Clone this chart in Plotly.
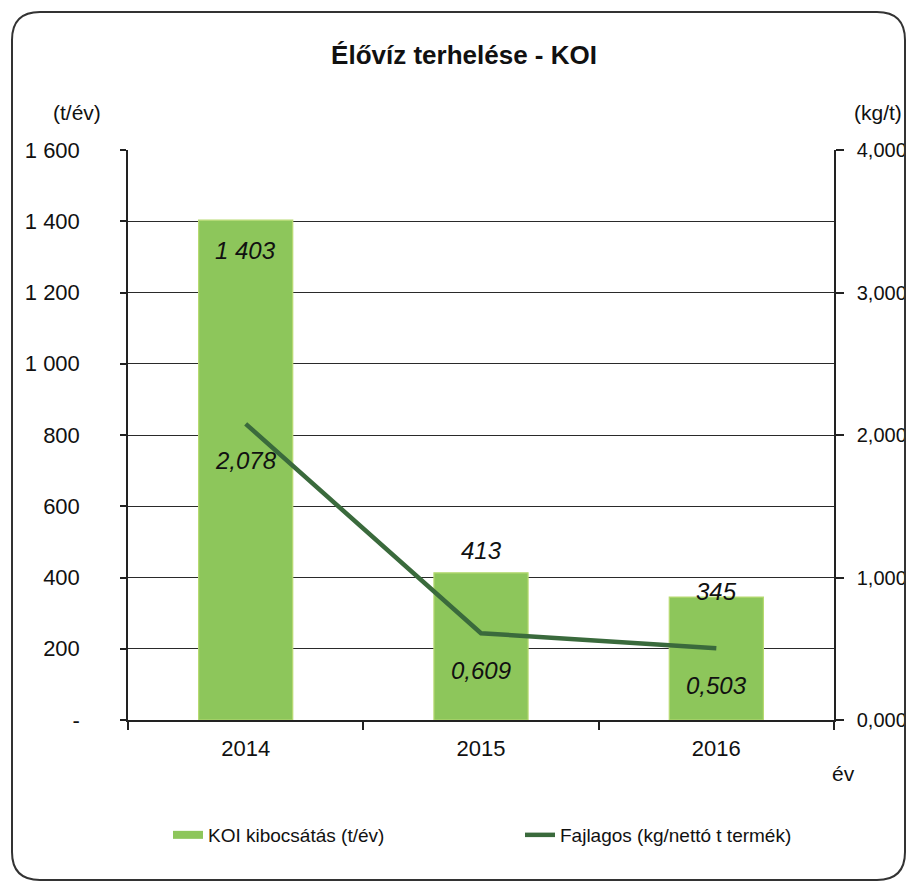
import plotly.graph_objects as go

# ---- data ----
years = ["2014", "2015", "2016"]
koi_emission = [1403, 413, 345]          # t/év
specific_koi = [2.078, 0.609, 0.503]     # kg/nettó t termék
left_ticks = [0, 200, 400, 600, 800, 1000, 1200, 1400, 1600]
right_ticks = [0, 1, 2, 3, 4]

title_text = "Élővíz terhelése - KOI"
bar_name = "KOI kibocsátás (t/év)"
line_name = "Fajlagos (kg/nettó t termék)"

# ---- styling / layout constants (screen pixels) ----
W, H = 914, 886
OFF = 8                      # page body margin
L, R, T, B = 128, 834, 150, 720
FONT = "Arial, Liberation Sans, sans-serif"
BAR_COLOR = "#8dc65b"
LINE_COLOR = "#3a6a3c"
bar_label_shift = [-30, 22, 6]   # px offsets of bar value labels
line_label_shift = -37


def hu_int(v):
    return f"{v:,.0f}".replace(",", " ")


def hu_dec(v):
    return f"{v:.3f}".replace(".", ",")


def px(x):
    return (x - L) / (R - L)


def py(y):
    return (B - y) / (B - T)


fig = go.Figure()
fig.add_trace(go.Bar(
    x=years, y=koi_emission, name=bar_name, yaxis="y",
    marker=dict(color=BAR_COLOR, line=dict(color="#b7da72", width=1.2)),
    showlegend=False, hoverinfo="skip",
))
# legend proxy for the bar series (wide flat swatch like the original)
fig.add_trace(go.Scatter(
    x=[years[0]], y=[None], mode="lines", name=bar_name,
    line=dict(color=BAR_COLOR, width=8), legend="legend",
))
fig.add_trace(go.Scatter(
    x=years, y=specific_koi, name=line_name, yaxis="y2", mode="lines",
    line=dict(color=LINE_COLOR, width=4.5), legend="legend2",
))

label_font = dict(family=FONT, size=24, color="#111")
annotations = []
for i, (v, s) in enumerate(zip(koi_emission, bar_label_shift)):
    annotations.append(dict(
        x=i, y=v, xref="x", yref="y", text="<i>" + hu_int(v) + "</i>",
        showarrow=False, yshift=s, xanchor="center", yanchor="middle",
        font=label_font,
    ))
for i, v in enumerate(specific_koi):
    annotations.append(dict(
        x=i, y=v, xref="x", yref="y2", text="<i>" + hu_dec(v) + "</i>",
        showarrow=False, yshift=line_label_shift, xanchor="center",
        yanchor="middle", font=label_font,
    ))

unit_font = dict(family=FONT, size=21, color="#111")
annotations += [
    dict(x=px(77), y=py(112), xref="paper", yref="paper", text="(t/év)",
         showarrow=False, xanchor="center", yanchor="middle", font=unit_font),
    dict(x=px(878), y=py(112), xref="paper", yref="paper", text="(kg/t)",
         showarrow=False, xanchor="center", yanchor="middle", font=unit_font),
    dict(x=px(843), y=py(773), xref="paper", yref="paper", text="év",
         showarrow=False, xanchor="center", yanchor="middle", font=unit_font),
]

# rounded border
x0, x1, y0, y1, r = 12, 905, 12, 880, 28
path = (
    f"M {px(x0 + r)},{py(y0)} L {px(x1 - r)},{py(y0)} "
    f"Q {px(x1)},{py(y0)} {px(x1)},{py(y0 + r)} "
    f"L {px(x1)},{py(y1 - r)} Q {px(x1)},{py(y1)} {px(x1 - r)},{py(y1)} "
    f"L {px(x0 + r)},{py(y1)} Q {px(x0)},{py(y1)} {px(x0)},{py(y1 - r)} "
    f"L {px(x0)},{py(y0 + r)} Q {px(x0)},{py(y0)} {px(x0 + r)},{py(y0)} Z"
)

legend_common = dict(orientation="h", xanchor="left", yanchor="middle",
                     font=dict(family=FONT, size=19, color="#111"),
                     bgcolor="rgba(0,0,0,0)")

fig.update_layout(
    width=W, height=H,
    margin=dict(l=L - OFF, r=W + OFF - R, t=T - OFF, b=H + OFF - B, pad=0),
    paper_bgcolor="white", plot_bgcolor="white",
    font=dict(family=FONT, size=21, color="#111"),
    title=dict(text="<b>" + title_text + "</b>", x=(464 - OFF) / W,
               y=1 - (55 - OFF) / H, xanchor="center", yanchor="middle",
               font=dict(family=FONT, size=26, color="#111")),
    bargap=0.6,
    showlegend=True,
    legend=dict(x=px(168), y=py(835), **legend_common),
    legend2=dict(x=px(520), y=py(835), **legend_common),
    xaxis=dict(
        type="category", categoryorder="array", categoryarray=years,
        range=[-0.5, len(years) - 0.5], autorange=False,
        showgrid=False, showline=True, linecolor="#222",
        linewidth=1.5, ticks="outside", tickson="boundaries", ticklen=8,
        tickcolor="#222", tickwidth=1.5, tickfont=dict(size=22),
        tickangle=0, ticklabelstandoff=8, zeroline=False,
    ),
    yaxis=dict(
        range=[0, 1600], tickvals=left_ticks,
        ticktext=["-" if v == 0 else hu_int(v) for v in left_ticks],
        showgrid=True, gridcolor="#2a2a2a", gridwidth=1.3,
        showline=True, linecolor="#222", linewidth=1.5,
        ticks="outside", ticklen=6, tickcolor="#222", tickwidth=1.5,
        tickfont=dict(size=22), ticklabelstandoff=36, zeroline=False,
    ),
    yaxis2=dict(
        range=[0, 4], overlaying="y", side="right", tickvals=right_ticks,
        ticktext=[hu_dec(v) for v in right_ticks], showgrid=False,
        showline=True, linecolor="#222", linewidth=1.5,
        ticks="outside", ticklen=8, tickcolor="#222", tickwidth=1.5,
        tickfont=dict(size=20), ticklabelstandoff=9, zeroline=False,
    ),
    annotations=annotations,
    shapes=[dict(type="path", path=path, xref="paper", yref="paper",
                 line=dict(color="#333", width=2), layer="above")],
)

fig.write_html("out.html")
